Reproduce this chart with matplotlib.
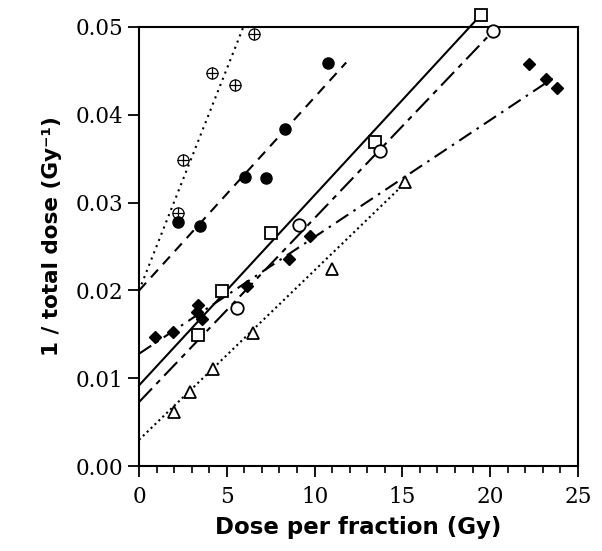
import matplotlib
matplotlib.use("Agg")
import matplotlib.pyplot as plt
import numpy as np
from matplotlib.ticker import MultipleLocator

# crossed circles, dotted fit
xc_x = [2.20, 2.52, 4.14, 5.47, 6.55]
xc_y = [0.0288, 0.0349, 0.0448, 0.0434, 0.0492]
# filled circles, dashed fit
fc_x = [2.24, 3.49, 6.05, 7.23, 8.33, 10.78]
fc_y = [0.0278, 0.0273, 0.0329, 0.0328, 0.0384, 0.0459]
# open squares, solid fit
sq_x = [3.34, 4.75, 7.52, 13.44, 19.48]
sq_y = [0.0149, 0.0199, 0.0266, 0.0369, 0.0514]
# open circles, long dash fit
oc_x = [5.60, 9.13, 13.72, 20.14]
oc_y = [0.0180, 0.0275, 0.0359, 0.0495]
# filled diamonds, dash-dot fit
di_x = [0.91, 1.95, 3.28, 3.38, 3.57, 6.13, 8.52, 9.74, 22.21, 23.16, 23.79]
di_y = [0.0147, 0.0153, 0.0175, 0.0184, 0.0168, 0.0205, 0.0236, 0.0262, 0.0458, 0.0441, 0.0430]
# open triangles, dotted fit
tr_x = [1.99, 2.90, 4.23, 6.51, 10.97, 15.15]
tr_y = [0.0062, 0.0084, 0.0111, 0.0152, 0.0225, 0.0323]

# fitted lines: intercept, slope, x end
fits = {
    'xc': (0.0200, 0.00505, 5.94),
    'fc': (0.0200, 0.00220, 11.8),
    'sq': (0.0092, 0.002166, 19.48),
    'oc': (0.0073, 0.002094, 20.2),
    'di': (0.0128, 0.00133, 23.8),
    'tr': (0.0030, 0.00193, 15.15),
}
styles = {
    'xc': (0, (1, 2.2)),
    'fc': (0, (5, 3.5)),
    'sq': '-',
    'oc': (0, (9, 3, 2.5, 3)),
    'di': (0, (7, 3, 1.2, 3)),
    'tr': (0, (1, 1.6)),
}

fig = plt.figure(figsize=(6.02, 5.51), dpi=100)
ax = fig.add_axes([0.231, 0.154, 0.729, 0.797])

for k, (b, m, xe) in fits.items():
    xs = np.array([0, xe])
    ax.plot(xs, b + m * xs, color='black', lw=1.5, linestyle=styles[k], clip_on=False)

kw = dict(linestyle='none', clip_on=False, zorder=3)
ax.plot(xc_x, xc_y, marker='o', ms=8, mfc='white', mec='black', mew=0.9, **kw)
ax.plot(xc_x, xc_y, marker='+', ms=8, mec='black', mew=0.9, **kw)
ax.plot(fc_x, fc_y, marker='o', ms=8, mfc='black', mec='black', **kw)
ax.plot(sq_x, sq_y, marker='s', ms=9, mfc='white', mec='black', mew=1.3, **kw)
ax.plot(oc_x, oc_y, marker='o', ms=9, mfc='white', mec='black', mew=1.3, **kw)
ax.plot(di_x, di_y, marker='D', ms=6, mfc='black', mec='black', **kw)
ax.plot(tr_x, tr_y, marker='^', ms=8, mfc='white', mec='black', mew=1.3, **kw)

ax.set_xlim(0, 25)
ax.set_ylim(0, 0.05)
ax.xaxis.set_major_locator(MultipleLocator(5))
ax.xaxis.set_minor_locator(MultipleLocator(1))
ax.set_yticks(np.arange(0, 0.051, 0.01))
ax.set_yticklabels(['0.00', '0.01', '0.02', '0.03', '0.04', '0.05'])
ax.tick_params(which='major', direction='out', length=8, width=1.3)
ax.tick_params(axis='x', which='major', pad=6)
ax.tick_params(which='minor', direction='out', length=5, width=1.2)
for lab in ax.get_xticklabels() + ax.get_yticklabels():
    lab.set_fontfamily('DejaVu Serif')
    lab.set_fontsize(15.5)
for s in ax.spines.values():
    s.set_linewidth(1.5)

ax.set_xlabel('Dose per fraction (Gy)', fontsize=16.5, fontweight='bold', labelpad=6)
ax.set_ylabel('1 / total dose (Gy\u207b\u00b9)', fontsize=15.5, fontweight='bold')
ax.yaxis.set_label_coords(-0.176, 0.525)

fig.savefig('out.png', dpi=100)
